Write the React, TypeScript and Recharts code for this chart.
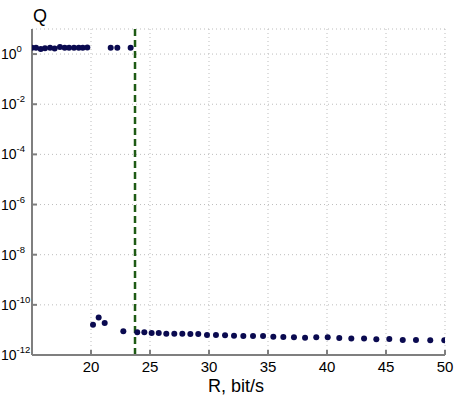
import {
  ScatterChart, Scatter, XAxis, YAxis, CartesianGrid, ReferenceLine,
} from 'recharts';

// rate R (bit/s) and Q
const upperR = [15.0, 15.34, 15.74, 16.1, 16.53, 16.92, 17.37, 17.77, 18.14, 18.56, 18.96, 19.3, 19.69, 21.67, 22.23, 23.36];
const upperQ = [1.8, 1.8, 1.6, 1.7, 1.8, 1.65, 1.9, 1.8, 1.8, 1.8, 1.8, 1.8, 1.85, 1.8, 1.8, 1.8];

const lowerR = [
  20.17, 20.65, 21.16, 22.74, 23.92, 24.52, 25.14, 25.74, 26.38, 27.06, 27.74, 28.42,
  29.09, 29.83, 30.59, 31.36, 32.12, 32.91, 33.73, 34.58, 35.45, 36.3, 37.2, 38.14,
  39.09, 40.06, 41.04, 42.06, 43.14, 44.18, 45.28, 46.42, 47.54, 48.75, 49.94,
];
const lowerQ = [
  1.6e-11, 3.1e-11, 1.9e-11, 8.8e-12, 8.0e-12, 8.0e-12, 7.5e-12, 7.5e-12, 7.0e-12, 7.0e-12, 7.0e-12, 6.9e-12,
  6.9e-12, 6.3e-12, 6.3e-12, 6.1e-12, 5.9e-12, 5.7e-12, 5.7e-12, 5.7e-12, 5.4e-12, 5.2e-12, 5.1e-12, 4.9e-12,
  5.1e-12, 5.1e-12, 4.8e-12, 4.5e-12, 4.5e-12, 4.2e-12, 4.3e-12, 4.0e-12, 4.0e-12, 3.9e-12, 3.9e-12,
];

const threshold = 23.73;
const xTicks = [20, 25, 30, 35, 40, 45, 50];
const yTicks = [1e-12, 1e-10, 1e-8, 1e-6, 1e-4, 1e-2, 1];

const points = [
  ...upperR.map((r, i) => ({ r, q: upperQ[i] })),
  ...lowerR.map((r, i) => ({ r, q: lowerQ[i] })),
];

const FONT = '"Liberation Sans", Arial, sans-serif';
const AXIS = '#7f7f7f';
const DOT = '#0a0a50';

function YTick(props: any) {
  const { y, payload } = props;
  const exp = Math.round(Math.log10(payload.value));
  return (
    <text x={1} y={y + 5} fontFamily={FONT} fontSize={14} fill="#000">
      10
      <tspan dy={-7} fontSize={9.5}>{String(exp)}</tspan>
    </text>
  );
}

function XTick(props: any) {
  const { x, y, payload } = props;
  return (
    <text x={x} y={y} textAnchor="middle" fontFamily={FONT} fontSize={15} fill="#000">
      {payload.value}
    </text>
  );
}

function Marker(props: any) {
  const { cx, cy } = props;
  if (cx == null || cy == null) return null;
  return <circle cx={cx} cy={cy} r={3} fill={DOT} />;
}

export default function App() {
  return (
    <div style={{ position: 'absolute', left: 0, top: 0, width: 463, height: 397, background: '#fff' }}>
      <ScatterChart width={463} height={397} margin={{ top: 29, right: 18, bottom: 0, left: 0 }}>
        <CartesianGrid stroke="#bdbdbd" strokeDasharray="1 3" />
        <XAxis
          type="number"
          dataKey="r"
          domain={[15, 50]}
          ticks={xTicks}
          height={42}
          stroke={AXIS}
          strokeWidth={2}
          tickSize={-5}
          tickMargin={22}
          tick={<XTick />}
          allowDataOverflow
        />
        <XAxis
          xAxisId="top"
          orientation="top"
          type="number"
          domain={[15, 50]}
          ticks={xTicks}
          height={0}
          stroke={AXIS}
          strokeWidth={2}
          tickSize={-5}
          tick={false}
        />
        <YAxis
          type="number"
          dataKey="q"
          scale="log"
          domain={[1e-12, 10]}
          ticks={yTicks}
          width={32}
          stroke={AXIS}
          strokeWidth={2}
          tickSize={-5}
          tick={<YTick />}
          allowDataOverflow
        />
        <YAxis
          yAxisId="right"
          orientation="right"
          type="number"
          scale="log"
          domain={[1e-12, 10]}
          ticks={yTicks}
          width={0}
          stroke={AXIS}
          strokeWidth={2}
          tickSize={-5}
          tick={false}
        />
        <ReferenceLine x={threshold} stroke="#1e5a14" strokeWidth={2.5} strokeDasharray="7 4" />
        <Scatter data={points} fill={DOT} shape={<Marker />} isAnimationActive={false} />
        <text x={33} y={22} fontFamily={FONT} fontSize={18} fill="#000">Q</text>
        <text x={236} y={392} textAnchor="middle" fontFamily={FONT} fontSize={18} fill="#000">R, bit/s</text>
      </ScatterChart>
    </div>
  );
}
